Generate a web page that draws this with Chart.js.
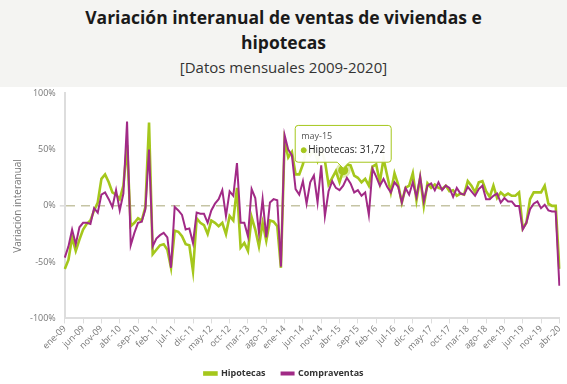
<!DOCTYPE html>
<html>
<head>
<meta charset="utf-8">
<script src="https://cdn.jsdelivr.net/npm/chart.js@4"></script>
<style>
  html, body { margin: 0; padding: 0; background: #ffffff; }
  body { width: 567px; height: 384px; overflow: hidden; font-family: "Open Sans", "Noto Sans", sans-serif; }
  #head { width: 567px; height: 87px; background: #f4f4f2; text-align: center; box-sizing: border-box; padding-top: 5px; }
  #head h1 { margin: 0; font-size: 17.5px; line-height: 25px; font-weight: 700; color: #1a1a1a; }
  #head p { margin: 1px 0 0 0; font-size: 15px; line-height: 22px; color: #333; }
  #wrap { position: relative; width: 567px; height: 300px; margin-top: -3px; }
</style>
</head>
<body>
<div id="head">
  <h1>Variación interanual de ventas de viviendas e<br>hipotecas</h1>
  <p>[Datos mensuales 2009-2020]</p>
</div>
<div id="wrap"><canvas id="c"></canvas></div>
<script>
const monthNames = ["ene","feb","mar","abr","may","jun","jul","ago","sep","oct","nov","dic"];
const years = ["09","10","11","12","13","14","15","16","17","18","19","20"];
const categories = [];
for (const y of years) {
  for (const m of monthNames) {
    if (categories.length < 136) categories.push(m + "-" + y);
  }
}

const hipotecas = [
  -56,-48,-28,-40,-30,-21,-16,-13,-4,3,24,28,
  21,12,10,6,18,54,-18,-15,-11,-13,-1,74,
  -43,-39,-35,-34,-39,-55,-22,-23,-27,-34,-35,-58,
  -11,-15,-17,-25,-13,-15,-18,-15,-25,-9,-13,16,
  -37,-33,-40,-10,-21,-36,-15,-31,-13,-14,-18,-55,
  58,43,48,28,28,37,50,45,50,40,50,40,
  19,25,31,21,31.72,37,36,27,25,21,24,18,
  35,37,21,42,27,12,29,19,3,16,18,29,
  5,25,0,20,16,19,16,15,18,13,14,9,
  11,10,22,18,12,21,22,13,8,18,7,12,
  9,11,9,9,12,-20,-15,6,12,12,12,18,
  2,0,0,-56
];
const compraventas = [
  -46,-36,-21,-34,-19,-15,-15,-16,-2,-6,10,12,
  6,-1,14,-4,11,75,-35,-24,-15,-14,-3,50,
  -36,-29,-26,-24,-28,-55,-1,-4,-8,-21,-20,-33,
  -6,-7,-7,-15,-4,2,6,14,-9,13,9,38,
  -15,-15,-27,15,7,-24,6,-28,3,6,5,-54,
  63,50,45,15,10,22,2,21,27,3,36,-9,
  13,22,16,14,18,25,20,12,14,9,12,-8,
  33,26,18,24,17,12,21,17,3,16,10,21,
  8,26,4,18,20,14,21,14,18,16,8,16,
  11,10,17,13,9,15,18,6,6,9,11,3,
  7,4,4,0,0,-21,-15,-3,2,4,-2,1,
  -4,-5,-5,-71
];
const yTicks = [-100, -50, 0, 50, 100];

const GREEN = "#a5c71c";
const MAGENTA = "#a12a86";

const chart = new Chart(document.getElementById("c"), {
  type: "line",
  data: {
    labels: categories,
    datasets: [
      {
        label: "Hipotecas", data: hipotecas, borderColor: GREEN, backgroundColor: GREEN,
        borderWidth: 2.6, pointRadius: 0, pointHoverRadius: 5, pointHitRadius: 3,
        pointHoverBackgroundColor: GREEN, pointHoverBorderColor: "rgba(165,199,28,0.35)",
        pointHoverBorderWidth: 5, tension: 0, order: 1
      },
      {
        label: "Compraventas", data: compraventas, borderColor: MAGENTA, backgroundColor: MAGENTA,
        borderWidth: 2, pointRadius: 0, pointHoverRadius: 0, tension: 0, order: 0
      }
    ]
  },
  options: {
    responsive: true, maintainAspectRatio: false, animation: false,
    layout: { padding: { left: 6, right: 5, top: 0, bottom: -4 } },
    events: [],
    plugins: {
      legend: {
        position: "bottom",
        labels: {
          boxWidth: 12, boxHeight: 2, padding: 16, color: "#333",
          font: { family: "Open Sans", size: 9, weight: "bold" },
          sort: (a, b) => a.datasetIndex - b.datasetIndex
        }
      },
      title: { display: false },
      tooltip: {
        enabled: true, backgroundColor: "rgba(255,255,255,0.95)", borderColor: GREEN, borderWidth: 1,
        titleColor: "#555", bodyColor: "#222", cornerRadius: 3, padding: 6,
        titleFont: { family: "Open Sans", size: 9, weight: "normal" },
        bodyFont: { family: "Open Sans", size: 10, weight: "normal" },
        titleMarginBottom: 2, yAlign: "bottom", xAlign: "center", caretSize: 6,
        displayColors: true, usePointStyle: true, boxWidth: 5, boxHeight: 5,
        callbacks: {
          label: (ctx) => ctx.dataset.label + ": " + ctx.parsed.y.toFixed(2).replace(".", ","),
          labelColor: () => ({ borderColor: GREEN, backgroundColor: GREEN }),
          labelPointStyle: () => ({ pointStyle: "circle", rotation: 0 })
        }
      }
    },
    scales: {
      x: {
        offset: false,
        afterBuildTicks: (scale) => { scale.ticks = scale.ticks.filter(t => t.value % 5 === 0); },
        ticks: {
          autoSkip: false, maxRotation: 45, minRotation: 45, color: "#777", padding: 0,
          font: { family: "Open Sans", size: 9 }
        },
        grid: { drawOnChartArea: false, drawTicks: true, tickLength: 5, tickColor: "#dddddd", tickWidth: 1 },
        border: { display: true, color: "#dddddd", width: 2 }
      },
      y: {
        min: -100, max: 100,
        afterBuildTicks: (scale) => { scale.ticks = yTicks.map(v => ({ value: v })); },
        ticks: {
          color: "#777", padding: 4, font: { family: "Open Sans", size: 9 },
          callback: (v) => v + "%"
        },
        grid: {
          drawOnChartArea: true, drawTicks: true, tickLength: 5, tickColor: "#dddddd",
          color: (c) => (c.tick && c.tick.value === 0) ? "#c5c4a4" : "rgba(0,0,0,0)",
          lineWidth: (c) => (c.tick && c.tick.value === 0) ? 1.6 : 0
        },
        border: {
          display: true, color: "#dddddd", width: 2,
          dash: (c) => c.type === "tick" ? [9, 6] : []
        },
        title: {
          display: true, text: "Variación interanual", color: "#777",
          font: { family: "Open Sans", size: 10 }, padding: { top: 6, bottom: 2 }
        }
      }
    }
  }
});

const act = [{ datasetIndex: 0, index: 76 }];
chart.setActiveElements(act);
chart.tooltip.setActiveElements(act, { x: 0, y: 0 });
chart.update("none");
</script>
</body>
</html>
